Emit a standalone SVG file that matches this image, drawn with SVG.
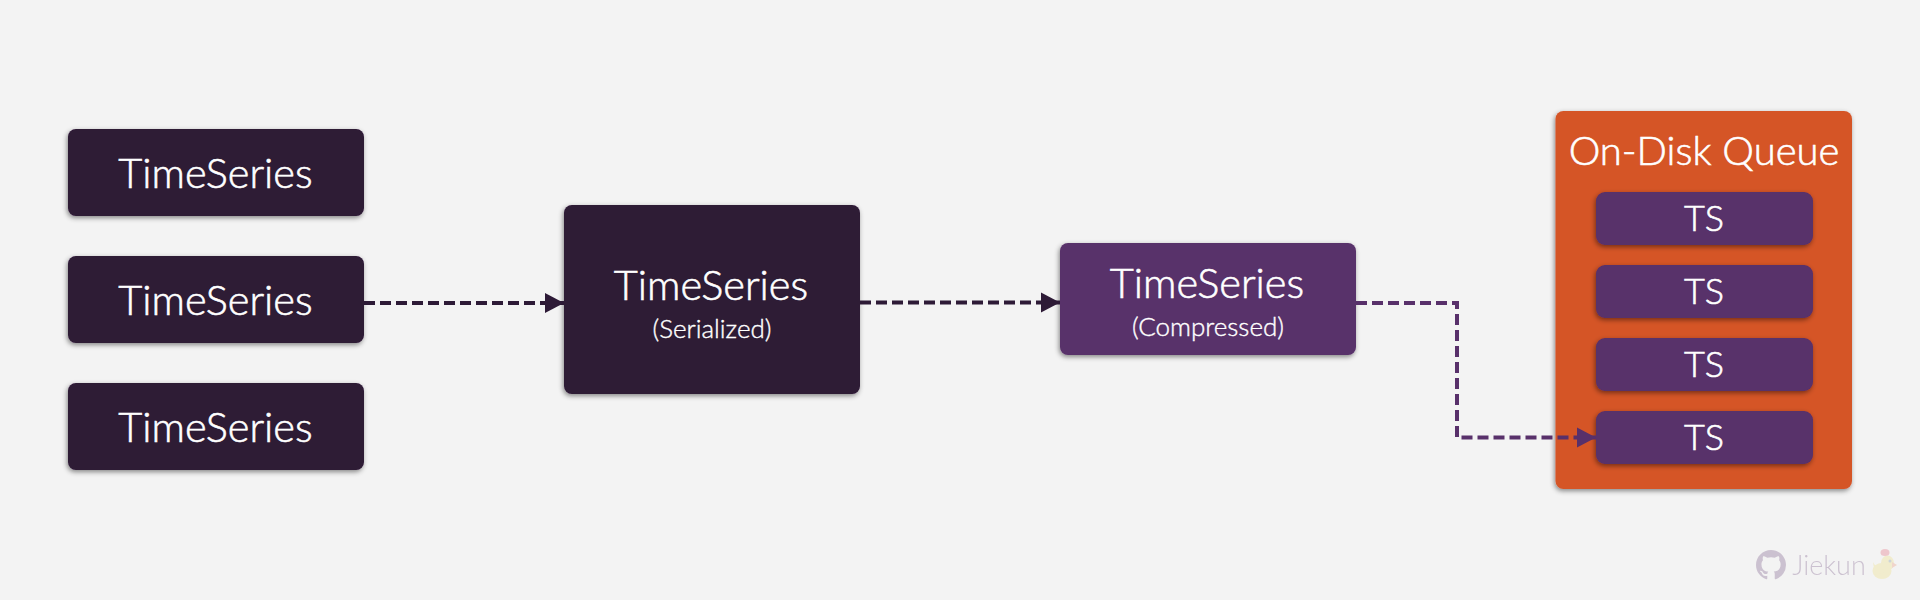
<svg xmlns="http://www.w3.org/2000/svg" width="1920" height="600" viewBox="0 0 1920 600">
<defs>
<style>
text{font-family:"Lato","Liberation Sans",sans-serif;fill:#fff;text-anchor:middle;font-weight:300;stroke:#fff;stroke-width:.6px}
.t{font-size:41.500px}.s{font-size:26px;stroke-width:.4px}.m{font-size:36px}.q{font-size:40px}
.dark{fill:#2d1a36}.pur{fill:#58306a}.or{fill:#d55428}
.c{fill:none;stroke-width:4;stroke-dasharray:11 5}
</style>
<filter id="sh" x="-10%" y="-10%" width="120%" height="125%"><feDropShadow dx="-1" dy="2" stdDeviation="2.500" flood-color="#000" flood-opacity=".45"/></filter>
<marker id="ad" markerUnits="userSpaceOnUse" markerWidth="20" markerHeight="22" refX="19" refY="11" orient="auto"><path d="M0 1L19 11L0 21Z" fill="#2d1a36"/></marker>
<marker id="ap" markerUnits="userSpaceOnUse" markerWidth="20" markerHeight="22" refX="19" refY="11" orient="auto"><path d="M0 1L19 11L0 21Z" fill="#58306a"/></marker>
</defs>
<rect width="1920" height="600" fill="#f3f3f3"/>
<g id="ts1"><rect class="dark" x="68" y="129" width="296" height="87" rx="8" filter="url(#sh)"/><text class="t" x="215.500" y="188">TimeSeries</text></g>
<g id="ts2"><rect class="dark" x="68" y="256" width="296" height="87" rx="8" filter="url(#sh)"/><text class="t" x="215.500" y="315">TimeSeries</text></g>
<g id="ts3"><rect class="dark" x="68" y="383" width="296" height="87" rx="8" filter="url(#sh)"/><text class="t" x="215.500" y="442">TimeSeries</text></g>
<g id="serialized"><rect class="dark" x="564" y="205" width="296" height="189" rx="8" filter="url(#sh)"/><text class="t" x="711" y="300">TimeSeries</text><text class="s" x="712" y="338">(Serialized)</text></g>
<g id="compressed"><rect class="pur" x="1060" y="243" width="296" height="112" rx="8" filter="url(#sh)"/><text class="t" x="1207" y="298">TimeSeries</text><text class="s" x="1208" y="336">(Compressed)</text></g>
<g id="queue"><rect class="or" x="1555.500" y="111" width="296.500" height="378" rx="8" filter="url(#sh)"/><text class="q" x="1704" y="165">On-Disk Queue</text></g>
<g id="q1"><rect class="pur" x="1596" y="192" width="217" height="53" rx="9" filter="url(#sh)"/><text class="m" x="1704" y="231">TS</text></g>
<g id="q2"><rect class="pur" x="1596" y="265" width="217" height="53" rx="9" filter="url(#sh)"/><text class="m" x="1704" y="304">TS</text></g>
<g id="q3"><rect class="pur" x="1596" y="338" width="217" height="53" rx="9" filter="url(#sh)"/><text class="m" x="1704" y="377">TS</text></g>
<g id="q4"><rect class="pur" x="1596" y="411" width="217" height="53" rx="9" filter="url(#sh)"/><text class="m" x="1704" y="450">TS</text></g>
<g id="connectors">
<path class="c" stroke="#2d1a36" marker-end="url(#ad)" d="M364 303H564"/>
<path class="c" stroke="#2d1a36" marker-end="url(#ad)" d="M860 302.500H1060"/>
<path class="c" stroke="#58306a" marker-end="url(#ap)" d="M1356 303H1457V437.500H1596"/>
</g>
<g id="watermark">
<g opacity=".25">
<path transform="translate(1756 550) scale(1.875)" fill="#58306a" d="M8 0C3.58 0 0 3.58 0 8c0 3.54 2.29 6.53 5.47 7.59.4.07.55-.17.55-.38 0-.19-.01-.82-.01-1.49-2.01.37-2.53-.49-2.69-.94-.09-.23-.48-.94-.82-1.13-.28-.15-.68-.52-.01-.53.63-.01 1.08.58 1.23.82.72 1.21 1.87.87 2.33.66.07-.52.28-.87.51-1.07-1.78-.2-3.64-.89-3.64-3.95 0-.87.31-1.59.82-2.15-.08-.2-.36-1.02.08-2.12 0 0 .67-.21 2.2.82.64-.18 1.32-.27 2-.27.68 0 1.36.09 2 .27 1.53-1.04 2.2-.82 2.2-.82.44 1.1.16 1.92.08 2.12.51.56.82 1.27.82 2.15 0 3.07-1.87 3.75-3.65 3.95.29.25.54.73.54 1.48 0 1.07-.01 1.93-.01 2.2 0 .21.15.46.55.38A8.013 8.013 0 0016 8c0-4.42-3.58-8-8-8z"/>
<text x="1829" y="575" font-size="27" style="fill:#58306a;stroke:none">Jiekun</text>
</g>
<g id="duck" opacity=".25">
<ellipse cx="1882" cy="571" rx="9.500" ry="8" fill="#ecd85f"/>
<path d="M1873 562Q1876 568 1880 566L1885 572L1875 575Z" fill="#ecd85f"/>
<ellipse cx="1887.500" cy="563" rx="6.500" ry="7.500" fill="#ecd85f"/>
<ellipse cx="1885" cy="552.500" rx="4.500" ry="3.500" fill="#e0455a"/>
<path d="M1892 562L1897 565L1892 568Z" fill="#e8805a"/>
<circle cx="1890" cy="561" r="1.500" fill="#5a7a90"/>
</g>
</g>
</svg>
